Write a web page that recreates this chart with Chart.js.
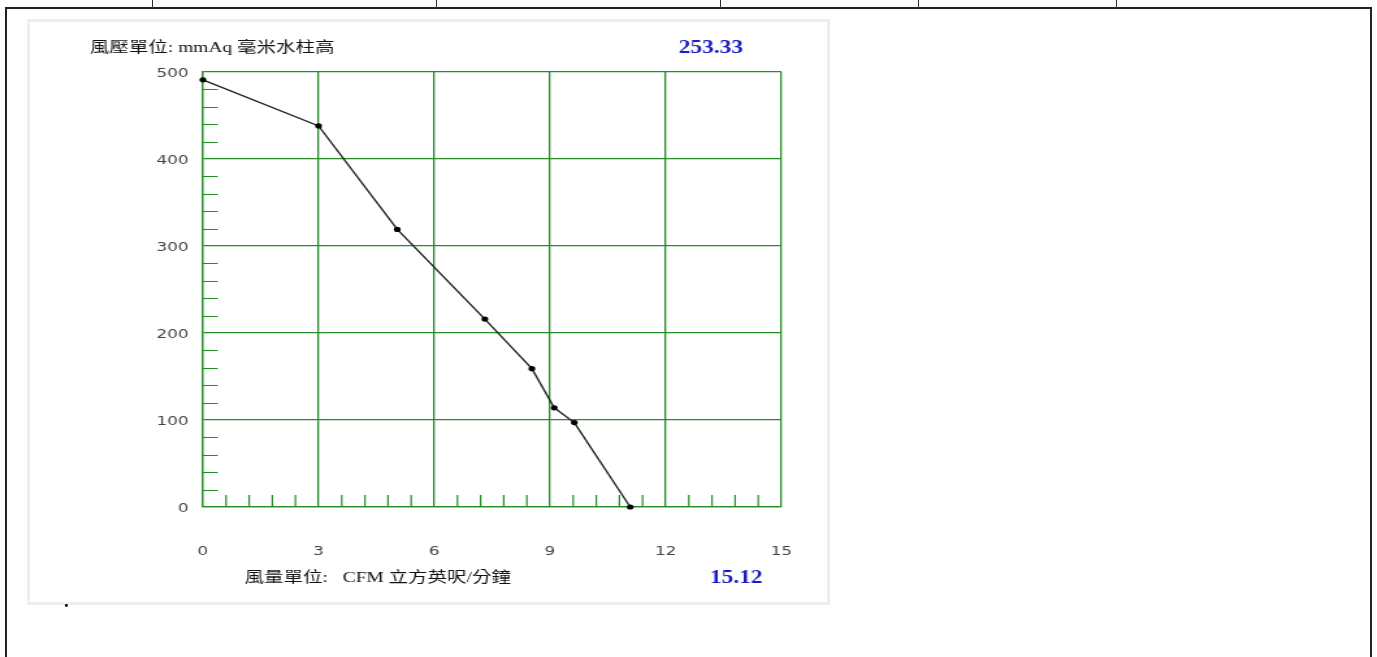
<!DOCTYPE html>
<html>
<head>
<meta charset="utf-8">
<title>風壓風量曲線</title>
<script src="https://cdn.jsdelivr.net/npm/chart.js@4.4.0/dist/chart.umd.min.js"></script>
<style>
body { margin: 0; background: #fff; width: 1377px; height: 657px; overflow: hidden; position: relative; }
.frame { position: absolute; left: 5px; top: 7px; width: 1367px; height: 660px; border: 2px solid #222; border-bottom: none; box-sizing: border-box; }
.sep { position: absolute; top: 0; width: 1px; height: 8px; background: #333; }
.panel { position: absolute; left: 27px; top: 19px; width: 803px; height: 586px; border: 3px solid #eeeeee; box-sizing: border-box; background: #fff; }
#chart { position: absolute; left: 30px; top: 22px; }
.dot { position: absolute; left: 64px; top: 590px; font: bold 19px "Liberation Serif", serif; color: #000; }
</style>
</head>
<body>
<div class="frame"></div>
<div class="sep" style="left:152px"></div>
<div class="sep" style="left:436px"></div>
<div class="sep" style="left:720px"></div>
<div class="sep" style="left:918px"></div>
<div class="sep" style="left:1116px"></div>
<div class="panel"></div>
<!-- 原圖是被水平拉寬的，所以畫布用 CSS 拉寬 1.3 倍 -->
<canvas id="chart" width="600" height="580" style="width:780px;height:580px"></canvas>
<div class="dot">.</div>
<script>
// 風量 (CFM) 與 風壓 (mmAq)
const flowCFM = [0, 3, 5.04, 7.31, 8.53, 9.11, 9.63, 11.08];
const pressureMmAq = [491, 438, 319, 216, 159, 114, 97, 0];

const xTicks = [0, 3, 6, 9, 12, 15];
const yTicks = [0, 100, 200, 300, 400, 500];

const yLabelText = '風壓單位: mmAq 毫米水柱高';
const xLabelText = '風量單位:   CFM 立方英呎/分鐘';
const maxPressure = '253.33';
const maxFlow = '15.12';

const gridGreen = 'rgb(38, 140, 38)';
const textBlue = '#1c1cc0';

// 內側的小刻度
const minorTicks = {
    id: 'minorTicks',
    beforeDatasetsDraw(chart) {
        const { ctx, chartArea, scales: { x, y } } = chart;
        ctx.save();
        ctx.strokeStyle = gridGreen;
        ctx.lineWidth = 1.2;
        ctx.beginPath();
        for (let i = 1; i < 25; i++) {
            if (i % 5 === 0) continue;
            const py = Math.round(y.getPixelForValue(i * 20)) + 0.5;
            ctx.moveTo(chartArea.left, py);
            ctx.lineTo(chartArea.left + 11.5, py);
        }
        for (let i = 1; i < 25; i++) {
            if (i % 5 === 0) continue;
            const px = x.getPixelForValue(i * 0.6);
            ctx.moveTo(px, chartArea.bottom);
            ctx.lineTo(px, chartArea.bottom - 12);
        }
        ctx.stroke();
        ctx.restore();
    }
};

// 軸說明文字
const captions = {
    id: 'captions',
    afterDraw(chart) {
        const { ctx, chartArea } = chart;
        ctx.save();
        ctx.textBaseline = 'middle';
        ctx.fillStyle = '#111';
        ctx.font = '15px "Liberation Serif", "Noto Sans CJK TC", serif';
        ctx.fillText(yLabelText, chartArea.left - 87, chartArea.top - 24);
        ctx.fillText(xLabelText, chartArea.left + 32, chartArea.bottom + 71);
        ctx.fillStyle = textBlue;
        ctx.font = 'bold 18px "Liberation Serif", serif';
        ctx.fillText(maxPressure, chartArea.right - 79, chartArea.top - 24);
        ctx.fillText(maxFlow, chartArea.right - 55, chartArea.bottom + 71);
        ctx.restore();
    }
};

const tickFont = { family: '"DejaVu Sans", sans-serif', size: 13 };

new Chart(document.getElementById('chart').getContext('2d'), {
    type: 'scatter',
    data: {
        datasets: [{
            data: flowCFM.map((v, i) => ({ x: v, y: pressureMmAq[i] })),
            showLine: true,
            borderColor: '#222',
            borderWidth: 1.4,
            pointRadius: 2.6,
            pointBackgroundColor: '#000',
            pointBorderColor: '#000',
            pointBorderWidth: 0,
            clip: false
        }]
    },
    options: {
        responsive: false,
        animation: false,
        devicePixelRatio: 1,
        layout: { padding: { left: 73, right: 22, top: 50, bottom: 35 } },
        plugins: {
            legend: { display: false },
            tooltip: { enabled: false }
        },
        scales: {
            x: {
                type: 'linear',
                min: 0,
                max: 15,
                afterBuildTicks: s => { s.ticks = xTicks.map(v => ({ value: v })); },
                afterFit: s => { s.height = 60; s.paddingLeft = 0; s.paddingRight = 0; },
                grid: { color: gridGreen, lineWidth: 1.3, drawTicks: false },
                border: { color: gridGreen, width: 1.3 },
                ticks: { font: tickFont, color: '#444', padding: 37, maxRotation: 0 }
            },
            y: {
                min: 0,
                max: 500,
                afterBuildTicks: s => { s.ticks = yTicks.map(v => ({ value: v })); },
                afterFit: s => { s.width = 60; },
                grid: { color: gridGreen, lineWidth: 1.3, drawTicks: false },
                border: { color: gridGreen, width: 1.3 },
                ticks: { font: tickFont, color: '#444', padding: 11, labelOffset: 2 }
            }
        }
    },
    plugins: [minorTicks, captions]
});
</script>
</body>
</html>
